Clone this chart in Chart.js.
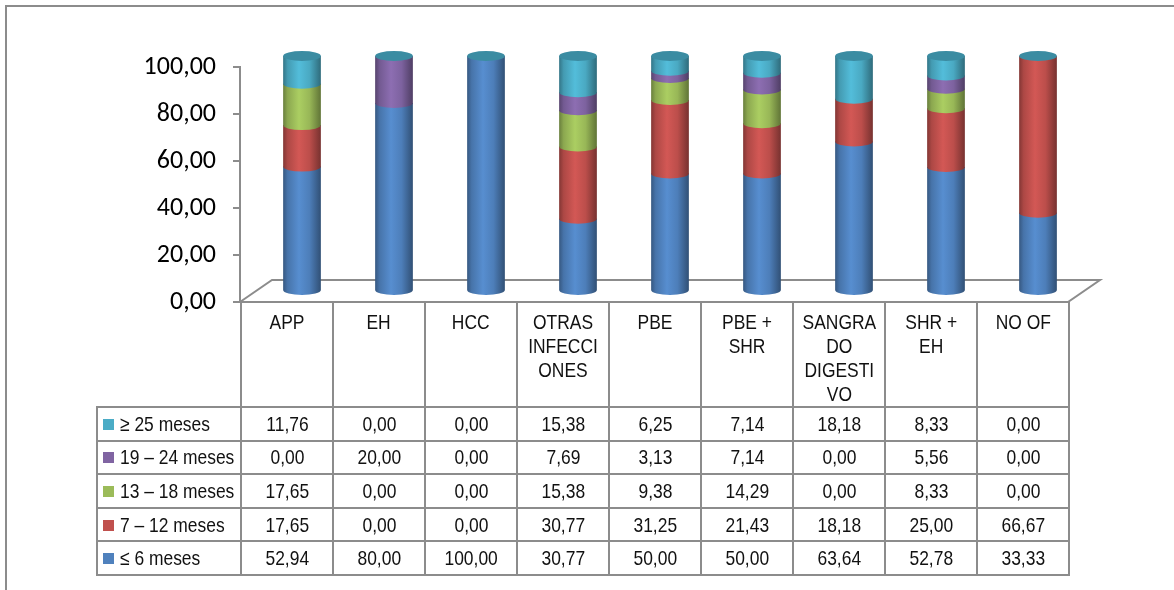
<!DOCTYPE html>
<html>
<head>
<meta charset="utf-8">
<script src="https://cdn.jsdelivr.net/npm/chart.js@4.4.1/dist/chart.umd.min.js"></script>
<style>
  body { margin: 0; background: #fff; }
  #wrap { position: relative; width: 1174px; height: 590px; overflow: hidden; }
  #frame { position: absolute; left: 5px; top: 5px; width: 1169px; height: 585px;
           border-top: 2px solid #8c8c8c; border-left: 2px solid #8c8c8c; }
  canvas { position: absolute; left: 0; top: 0; }
  #tabla { position: absolute; border-collapse: collapse; table-layout: fixed;
           font-family: "Liberation Sans", Arial, sans-serif;
           font-size: 21px; color: #111; }
  #tabla td { border: 2px solid #8c8c8c; padding: 0; text-align: center; vertical-align: middle; white-space: nowrap; }
  #tabla tr.cab td { vertical-align: top; line-height: 24px; padding-top: 7px; }
  #tabla tr.cab td.vacia { border-top: none; border-left: none; }
  #tabla td.serie { text-align: left; padding-left: 5px; }
  /* narrow lettering */
  .estrecho { display: inline-block; transform: scaleX(0.83); }
  .serie .estrecho { transform-origin: left center; }
  .cuadro { display: inline-block; width: 11px; height: 11px; margin-right: 6px; vertical-align: 1px; }
</style>
</head>
<body>
<div id="wrap">
  <div id="frame"></div>
  <canvas id="chart" width="1174" height="590"></canvas>
  <table id="tabla"></table>
</div>
<script>
const categorias = ['APP', 'EH', 'HCC', 'OTRAS INFECCIONES', 'PBE', 'PBE + SHR', 'SANGRADO DIGESTIVO', 'SHR + EH', 'NO OF'];
const cabeceras = [['APP'], ['EH'], ['HCC'], ['OTRAS', 'INFECCI', 'ONES'], ['PBE'], ['PBE +', 'SHR'],
                   ['SANGRA', 'DO', 'DIGESTI', 'VO'], ['SHR +', 'EH'], ['NO OF']];

const hasta6 = [52.94, 80.00, 100.00, 30.77, 50.00, 50.00, 63.64, 52.78, 33.33];
const de7a12 = [17.65, 0.00, 0.00, 30.77, 31.25, 21.43, 18.18, 25.00, 66.67];
const de13a18 = [17.65, 0.00, 0.00, 15.38, 9.38, 14.29, 0.00, 8.33, 0.00];
const de19a24 = [0.00, 20.00, 0.00, 7.69, 3.13, 7.14, 0.00, 5.56, 0.00];
const desde25 = [11.76, 0.00, 0.00, 15.38, 6.25, 7.14, 18.18, 8.33, 0.00];

const nombresSerie = ['≤ 6 meses', '7 – 12 meses', '13 – 18 meses', '19 – 24 meses', '≥ 25 meses'];
const coloresSerie = ['#4F81BD', '#C0504D', '#9BBB59', '#8064A2', '#4BACC6'];
const ticksY = [0, 20, 40, 60, 80, 100];

const GRIS = '#8c8c8c';
const PROF_X = 32, PROF_Y = -22;   // depth of the 3D floor
const RY = 5;                       // vertical radius of the cylinder ellipses

const fmt = v => v.toFixed(2).replace('.', ',');

function ajustar(hex, f) {
  const n = parseInt(hex.slice(1), 16);
  const c = [(n >> 16) & 255, (n >> 8) & 255, n & 255].map(v => Math.max(0, Math.min(255, Math.round(v * f))));
  return `rgb(${c[0]},${c[1]},${c[2]})`;
}

function tramo(ctx, xc, w, yTop, yBot, color) {
  const x0 = xc - w / 2, x1 = xc + w / 2;
  const g = ctx.createLinearGradient(x0, 0, x1, 0);
  g.addColorStop(0, ajustar(color, 0.68));
  g.addColorStop(0.12, ajustar(color, 0.9));
  g.addColorStop(0.42, ajustar(color, 1.1));
  g.addColorStop(0.7, ajustar(color, 0.98));
  g.addColorStop(1, ajustar(color, 0.62));
  ctx.beginPath();
  ctx.moveTo(x0, yTop);
  ctx.lineTo(x0, yBot);
  ctx.ellipse(xc, yBot, w / 2, RY, 0, Math.PI, 0, true);
  ctx.lineTo(x1, yTop);
  ctx.closePath();
  ctx.fillStyle = g;
  ctx.fill();
}

// floor of the 3D plot and the cylinders, drawn from the bar elements
const cilindros = {
  id: 'cilindros',
  beforeDatasetsDraw(chart) {
    const ctx = chart.ctx;
    const a = chart.chartArea;
    ctx.save();
    ctx.strokeStyle = GRIS;
    ctx.lineWidth = 2;
    ctx.beginPath();
    ctx.moveTo(a.left, a.bottom);
    ctx.lineTo(a.left + PROF_X, a.bottom + PROF_Y);
    ctx.lineTo(a.right + PROF_X, a.bottom + PROF_Y);
    ctx.lineTo(a.right, a.bottom);
    ctx.lineTo(a.left, a.bottom);
    ctx.stroke();

    const dx = PROF_X / 2, dy = PROF_Y / 2;
    const n = chart.data.labels.length;
    const nd = chart.data.datasets.length;
    for (let i = 0; i < n; i++) {
      let cima = null, xc = 0, w = 0;
      for (let d = 0; d < nd; d++) {
        const el = chart.getDatasetMeta(d).data[i];
        xc = el.x + dx;
        w = el.width;
        if (Math.abs(el.base - el.y) < 0.5) continue;
        tramo(ctx, xc, w, el.y + dy, el.base + dy, coloresSerie[d]);
        cima = el.y + dy;
      }
      if (cima !== null) {
        ctx.beginPath();
        ctx.ellipse(xc, cima, w / 2, RY, 0, 0, Math.PI * 2);
        ctx.fillStyle = '#3B8CA2';
        ctx.fill();
      }
    }
    ctx.restore();
    return false;
  }
};

const chart = new Chart(document.getElementById('chart').getContext('2d'), {
  type: 'bar',
  data: {
    labels: categorias,
    datasets: [hasta6, de7a12, de13a18, de19a24, desde25].map((serie, k) => ({
      label: nombresSerie[k],
      data: serie,
      backgroundColor: coloresSerie[k],
      barPercentage: 0.41,
      categoryPercentage: 1
    }))
  },
  options: {
    responsive: false,
    animation: false,
    layout: { padding: { left: 100, right: 106, top: 67, bottom: 288 } },
    plugins: { legend: { display: false }, tooltip: { enabled: false } },
    scales: {
      x: { stacked: true, display: false },
      y: {
        stacked: true,
        min: 0,
        max: 100,
        afterFit(scale) { scale.width = 140; },
        afterBuildTicks(scale) { scale.ticks = ticksY.map(v => ({ value: v })); },
        ticks: {
          callback: v => fmt(v),
          color: '#000',
          padding: 17,
          font: { family: 'Carlito, Lato, sans-serif', size: 26 }
        },
        grid: { drawOnChartArea: false, drawTicks: true, tickLength: 7, color: GRIS, lineWidth: 2 },
        border: { display: true, color: GRIS, width: 2 }
      }
    }
  },
  plugins: [cilindros]
});

// data table under the plot, columns taken from the chart area
const area = chart.chartArea;
const anchoCol = (area.right - area.left) / categorias.length;
const anchoSerie = 144;
const tabla = document.getElementById('tabla');
tabla.style.left = (area.left - anchoSerie) + 'px';
tabla.style.top = (area.bottom - 1) + 'px';
tabla.style.width = (anchoSerie + anchoCol * categorias.length) + 'px';

const est = t => `<span class="estrecho">${t}</span>`;
let html = `<colgroup><col style="width:${anchoSerie}px">` +
  categorias.map(() => `<col style="width:${anchoCol}px">`).join('') + '</colgroup>';
html += '<tr class="cab" style="height:105px"><td class="vacia"></td>' +
  cabeceras.map(l => `<td>${est(l.join('<br>'))}</td>`).join('') + '</tr>';
const filas = [desde25, de19a24, de13a18, de7a12, hasta6];
filas.forEach((serie, r) => {
  const k = filas.length - 1 - r;
  html += `<tr style="height:33.6px"><td class="serie"><span class="cuadro" style="background:${coloresSerie[k]}"></span>${est(nombresSerie[k])}</td>` +
    serie.map(v => `<td>${est(fmt(v))}</td>`).join('') + '</tr>';
});
tabla.innerHTML = html;
</script>
</body>
</html>
